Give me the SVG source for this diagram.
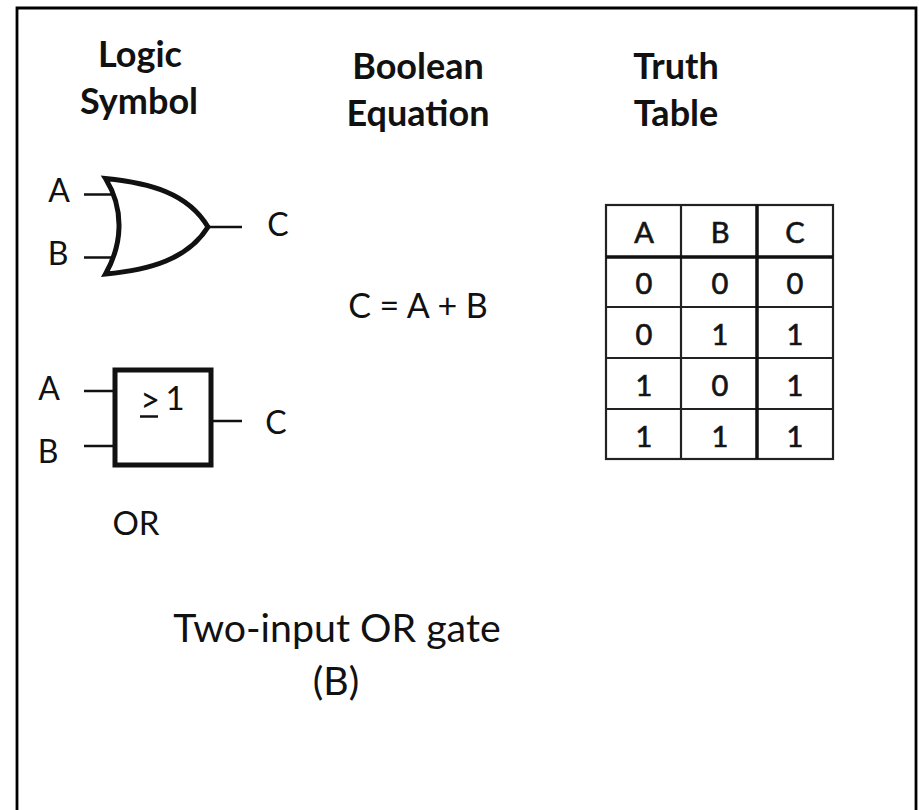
<svg xmlns="http://www.w3.org/2000/svg" width="919" height="810" viewBox="0 0 919 810">
<style>
text{font-family:Lato,"Open Sans","Liberation Sans",sans-serif;fill:#111;text-anchor:middle}
.h{font-size:36px;font-weight:700}
.l{font-size:32px}
.t{font-size:29px;stroke:#222;stroke-width:.7}
.w{stroke:#111;stroke-width:2.5;fill:none}
.g{stroke:#111;stroke-width:5;fill:#fff;stroke-linejoin:miter}
.c{stroke:#222;stroke-width:2.200;fill:none}
.k{stroke:#111;stroke-width:3.500;fill:none}
.cap{font-size:39.300px}
</style>
<rect width="919" height="810" fill="#fff"/>
<path d="M17 810V8H916V810" fill="none" stroke="#000" stroke-width="2.800"/>
<g id="headers">
<text class="h" x="140" y="67">Logic</text>
<text class="h" x="139" y="114">Symbol</text>
<text class="h" x="418" y="79">Boolean</text>
<text class="h" x="418" y="126">Equation</text>
<text class="h" x="676" y="79">Truth</text>
<text class="h" x="676" y="126">Table</text>
</g>
<g id="connectors">
<path class="w" d="M84 194.500H112M84 257.500H112M208 227H242M84 391H115M84 446H115M211 421H242"/>
</g>
<g id="or-gate">
<path class="g" d="M105.500 178.500C150 183 188 193 208 227C188 259 150 270 105.500 274C122 245 125 210 105.500 178.500Z"/>
<text class="l" x="59" y="202">A</text>
<text class="l" x="58" y="265">B</text>
<text class="l" x="278" y="236">C</text>
</g>
<g id="or-box">
<rect class="g" x="115" y="370" width="96" height="95"/>
<text x="150" y="412" style="font-size:34px">&gt;</text>
<path class="w" d="M140 416.500H158"/>
<text class="l" x="175" y="410" style="font-size:33px">1</text>
<text class="l" x="49" y="400">A</text>
<text class="l" x="48" y="463">B</text>
<text class="l" x="276" y="434">C</text>
</g>
<text id="or-label" class="l" x="136" y="535" style="font-size:33px">OR</text>
<text id="equation" class="l" x="418" y="318" style="font-size:34px">C = A + B</text>
<g id="truth-table">
<rect x="606" y="205" width="227" height="254" fill="#fff" stroke="#222" stroke-width="2.200"/>
<path class="c" d="M681 205V459M606 307H833M606 358H833M606 409H833"/>
<path class="k" d="M757 205V459M606 257H833"/>
<text class="t" x="644" y="243">A</text><text class="t" x="720" y="243">B</text><text class="t" x="795" y="243">C</text>
<text class="t" x="644" y="294">0</text><text class="t" x="720" y="294">0</text><text class="t" x="795" y="294">0</text>
<text class="t" x="644" y="345">0</text><text class="t" x="720" y="345">1</text><text class="t" x="795" y="345">1</text>
<text class="t" x="644" y="396">1</text><text class="t" x="720" y="396">0</text><text class="t" x="795" y="396">1</text>
<text class="t" x="644" y="447">1</text><text class="t" x="720" y="447">1</text><text class="t" x="795" y="447">1</text>
</g>
<g id="caption">
<text class="cap" x="337" y="642">Two-input OR gate</text>
<text class="cap" x="336" y="695">(B)</text>
</g>
</svg>
